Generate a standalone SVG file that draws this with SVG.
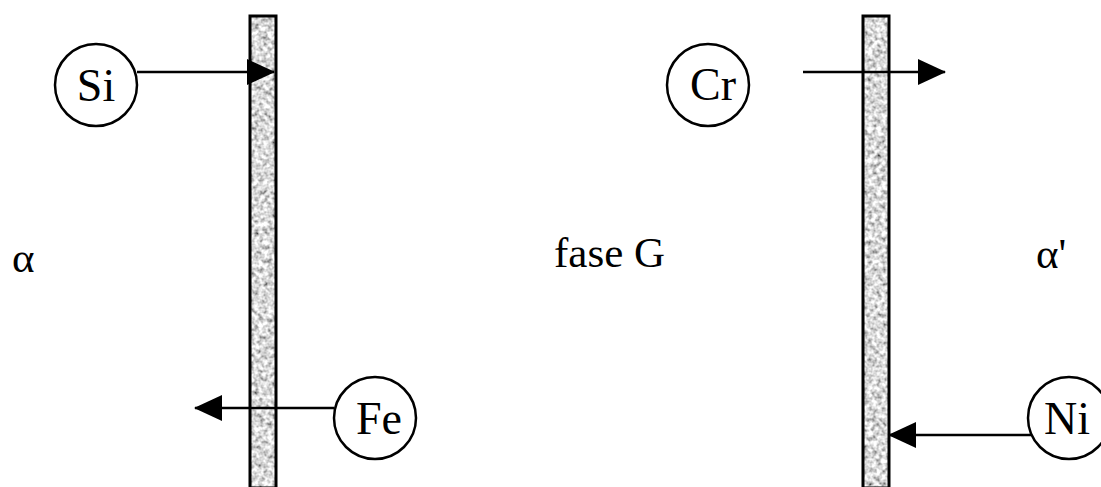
<svg xmlns="http://www.w3.org/2000/svg" width="1101" height="487" viewBox="0 0 1101 487">
<style>
.node{fill:#fff;stroke:#000;stroke-width:2.5}
.lbl{font-family:"Liberation Serif","Times New Roman",serif;font-size:46px;fill:#000;text-anchor:middle}
.phase{font-family:"Liberation Serif","Times New Roman",serif;font-size:43px;fill:#000}
.conn{stroke:#000;stroke-width:2.5;fill:none}
.barfill{fill:#b5b5b5}
.barline{fill:none;stroke:#000;stroke-width:3}
</style>
<defs>
<filter id="grain" x="0" y="0" width="100%" height="100%">
<feTurbulence type="fractalNoise" baseFrequency="0.22" numOctaves="2" seed="7" result="n"/>
<feColorMatrix in="n" type="matrix" values="1.6 0 0 0 -0.1  1.6 0 0 0 -0.1  1.6 0 0 0 -0.1  0 0 0 0 1" result="g"/>
<feComposite in="g" in2="SourceGraphic" operator="in"/>
</filter>
<marker id="ah" viewBox="0 0 28 26" refX="27" refY="13" markerWidth="28" markerHeight="26" markerUnits="userSpaceOnUse" orient="auto">
<path d="M0,0 L28,13 L0,26 Z" fill="#000"/>
</marker>
</defs>
<rect width="1101" height="487" fill="#fff"/>

<g id="interface-left">
<rect class="barfill" x="250" y="16" width="26" height="472" filter="url(#grain)"/>
<rect class="barline" x="250" y="16" width="26" height="472"/>
</g>
<g id="interface-right">
<rect class="barfill" x="863" y="16" width="26" height="472" filter="url(#grain)"/>
<rect class="barline" x="863" y="16" width="26" height="472"/>
</g>

<g id="phase-alpha"><text class="phase" x="12" y="272" font-size="50">α</text></g>
<g id="phase-G"><text class="phase" x="554" y="267">fase G</text></g>
<g id="phase-alpha-prime"><text class="phase" x="1036" y="268" font-size="50">α'</text></g>

<g id="connectors">
<line class="conn" x1="137" y1="72" x2="274" y2="72" marker-end="url(#ah)"/>
<line class="conn" x1="334" y1="408" x2="195" y2="408" marker-end="url(#ah)"/>
<line class="conn" x1="803" y1="72" x2="945" y2="72" marker-end="url(#ah)"/>
<line class="conn" x1="1031" y1="435" x2="889" y2="435" marker-end="url(#ah)"/>
</g>

<g id="node-Si">
<circle class="node" cx="96" cy="85" r="41"/>
<text class="lbl" x="96" y="101">Si</text>
</g>
<g id="node-Fe">
<circle class="node" cx="375" cy="418" r="41"/>
<text class="lbl" x="379" y="434">Fe</text>
</g>
<g id="node-Cr">
<circle class="node" cx="708" cy="85" r="41"/>
<text class="lbl" x="713" y="100">Cr</text>
</g>
<g id="node-Ni">
<circle class="node" cx="1069" cy="418" r="41"/>
<text class="lbl" x="1067" y="434">Ni</text>
</g>
</svg>
